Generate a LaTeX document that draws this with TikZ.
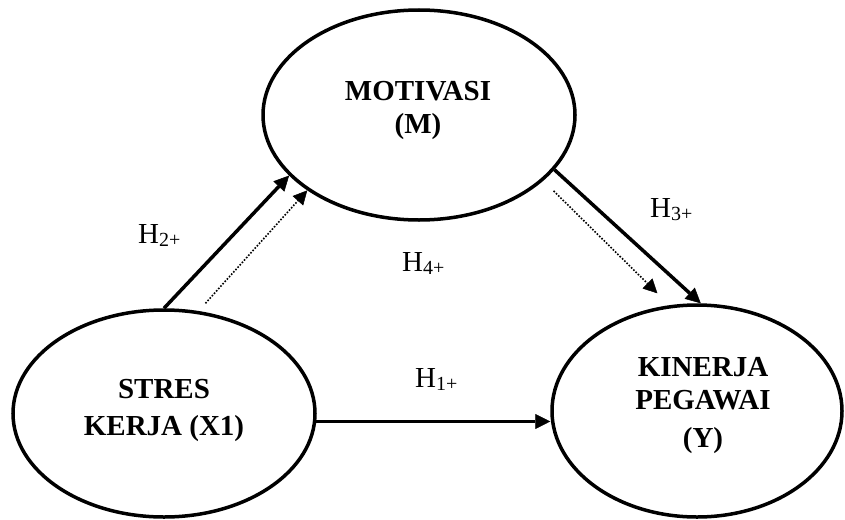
\documentclass[tikz,border=0pt]{standalone}
\usepackage{fontspec}
\setmainfont{Liberation Serif}
\usetikzlibrary{arrows.meta,shapes.geometric}
\begin{document}
\begin{tikzpicture}[x=1pt,y=-1pt,
 var/.style={ellipse, draw, line width=3.5pt, inner sep=0pt},
 vtext/.style={font=\fontsize{29}{33}\selectfont\bfseries, align=center, inner sep=0pt},
 hlab/.style={font=\fontsize{29}{29}\selectfont, inner sep=0pt, anchor=base west},
 solidarr/.style={line width=3.5pt, -{Triangle[length=15pt,width=15pt,line width=0.5pt]}},
 dotarr/.style={line width=1.6pt, dash pattern=on 1.6pt off 1.6pt, -{Triangle[length=14pt,width=14pt,line width=0.5pt]}}
]
\useasboundingbox (0,0) rectangle (845,519);

\node[var, minimum width=312pt, minimum height=210pt] (motiv) at (419,115) {};
\node[var, minimum width=302pt, minimum height=207pt] (stres) at (164,413.5) {};
\node[var, minimum width=290pt, minimum height=212pt] (kin) at (697,411) {};

\node[vtext] (motivt) at (418,110) {MOTIVASI\\(M)};
\node[vtext] (strest) at (164,410) {STRES\\[4pt]KERJA (X1)};
\node[vtext] (kint) at (703,406) {KINERJA\\PEGAWAI\\[5pt](Y)};

\newcommand{\hsub}[1]{{\fontsize{20}{20}\selectfont\raisebox{-3pt}{#1}}}
\node[hlab] (h2) at (138,243) {H\hsub{2+}};
\node[hlab] (h4) at (402,271) {H\hsub{4+}};
\node[hlab] (h3) at (650,217) {H\hsub{3+}};
\node[hlab] (h1) at (415,387) {H\hsub{1+}};

\draw[solidarr] (stres.-3.6) -- (stres.-3.6 -| kin.west);
\draw[solidarr] (stres.90) -- (motiv.205);
\draw[dotarr] ([shift={(13.7,-6.7)}]stres.75) -- (motiv.214.5);
\draw[solidarr] (motiv.338) -- (kin.88);
\draw[dotarr] ([shift={(14.6,6.6)}]motiv.330) -- ([shift={(-1.7,-13.6)}]kin.110);
\end{tikzpicture}
\end{document}
